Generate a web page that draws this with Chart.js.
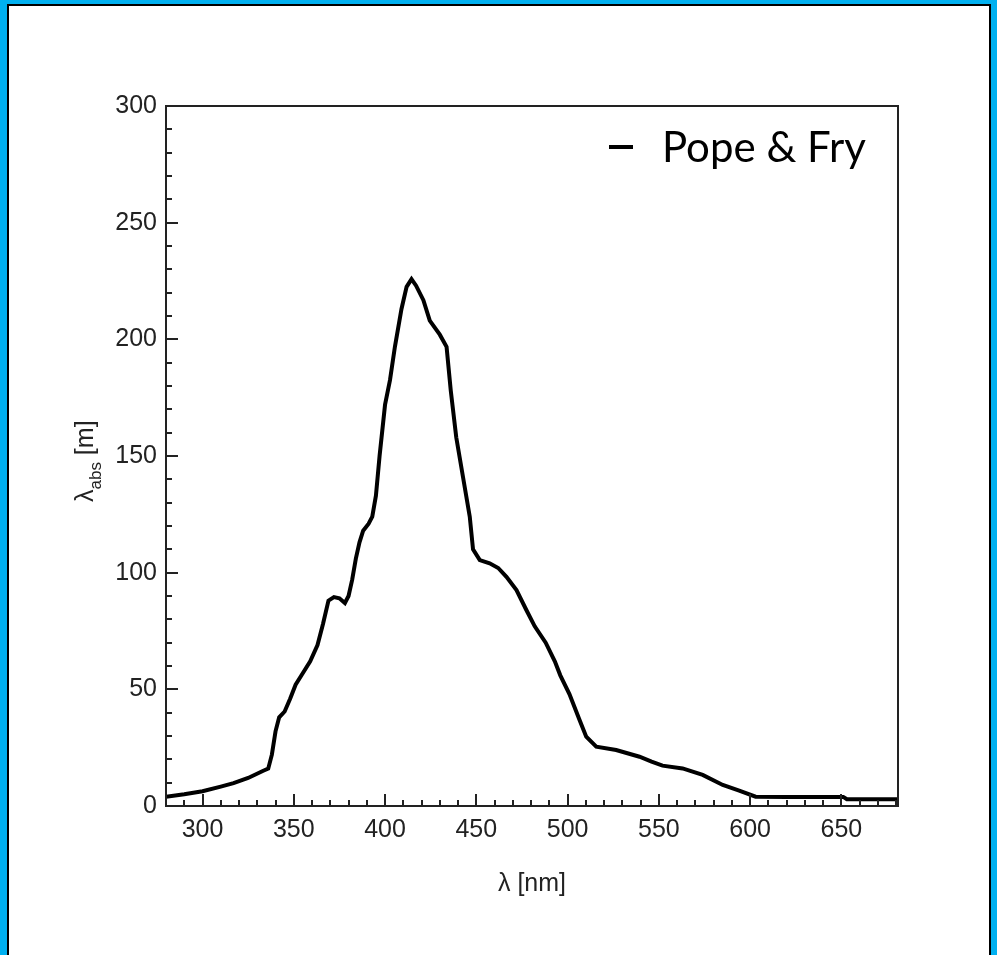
<!DOCTYPE html>
<html>
<head>
<meta charset="utf-8">
<title>Pope & Fry absorption length</title>
<script src="https://cdn.jsdelivr.net/npm/chart.js@4.4.0/dist/chart.umd.min.js"></script>
<style>
    html, body { margin: 0; padding: 0; background: #fff; }
    #wrap { position: relative; width: 997px; height: 955px; overflow: hidden; }
    #chart { position: absolute; left: 0; top: 0; }
    #frame {
        position: absolute; left: 0; top: 0; width: 997px; height: 955px;
        box-sizing: border-box; border-style: solid; border-color: #00b0f0;
        border-width: 4px 6px 0 7px; pointer-events: none;
    }
    #frame div { width: 100%; height: 100%; box-sizing: border-box; border: 2px solid #000; border-bottom: none; }
</style>
</head>
<body>
<div id="wrap">
    <canvas id="chart" width="997" height="955"></canvas>
    <div id="frame"><div></div></div>
</div>
<script>
// wavelength [nm] and absorption length [m]
const wavelength = [
    280, 290, 300, 310, 317, 325, 333, 336, 338, 340, 342, 345, 348, 351, 355, 359,
    363, 366, 369, 372, 375, 378, 380, 382, 384, 386, 388, 391, 393, 395, 397, 400,
    402.7, 405.4, 409, 411.8, 414.5, 417, 421, 424.5, 430, 433.7, 436, 439, 442.7, 446.4,
    448.2, 451.9, 457.3, 462, 466.5, 472, 477.4, 482, 488, 493, 496, 501, 506.5, 510.2,
    515.7, 526.6, 539.4, 546, 552, 563, 574, 585, 594, 603, 620, 640, 651, 653, 681
];
const absLength = [
    4, 5, 6.3, 8.3, 9.8, 12, 15, 16, 22, 32, 38, 40.5, 46, 52, 57, 62,
    69, 78, 88, 89.5, 89, 87, 90, 97, 106, 113, 118, 121, 124, 133, 150, 172,
    182.5, 196.8, 213, 222.5, 225.8, 223, 216.8, 208, 202, 196.8, 178, 158, 141, 124,
    110, 105.4, 104, 102, 98.2, 92.5, 84, 77, 70, 62, 56, 48, 37, 29.7,
    25.4, 24, 21.1, 19, 17.3, 16.1, 13.3, 9, 6.6, 4, 3.9, 3.9, 3.9, 2.9, 2.9
];
const xTicks = [300, 350, 400, 450, 500, 550, 600, 650];
const yTicks = [0, 50, 100, 150, 200, 250, 300];
const seriesName = 'Pope & Fry';

const axisFont = { family: "'Liberation Sans', Arial, sans-serif", size: 25 };

// frame, inward tick marks, y title with subscript, legend
const decorations = {
    id: 'decorations',
    afterDraw(chart) {
        const { ctx, chartArea: a, scales: { x, y } } = chart;
        ctx.save();
        ctx.strokeStyle = '#222';
        ctx.lineWidth = 2;
        ctx.strokeRect(a.left, a.top, a.right - a.left, a.bottom - a.top);

        ctx.beginPath();
        for (let v = 290; v <= 680; v += 10) {
            const px = Math.round(x.getPixelForValue(v));
            const len = v % 50 === 0 ? 12 : 6;
            ctx.moveTo(px, a.bottom);
            ctx.lineTo(px, a.bottom - len);
        }
        for (let v = 10; v < 300; v += 10) {
            const py = Math.round(y.getPixelForValue(v));
            const len = v % 50 === 0 ? 12 : 6;
            ctx.moveTo(a.left, py);
            ctx.lineTo(a.left + len, py);
        }
        ctx.stroke();

        // y axis title: lambda_abs [m]
        ctx.fillStyle = '#222';
        ctx.translate(93, 502);
        ctx.rotate(-Math.PI / 2);
        ctx.textBaseline = 'alphabetic';
        ctx.font = "25px 'Liberation Sans', Arial, sans-serif";
        ctx.fillText('λ', 0, 0);
        let off = ctx.measureText('λ').width;
        ctx.font = "17px 'Liberation Sans', Arial, sans-serif";
        ctx.fillText('abs', off, 8);
        off += ctx.measureText('abs').width;
        ctx.font = "25px 'Liberation Sans', Arial, sans-serif";
        ctx.fillText(' [m]', off, 0);
        ctx.setTransform(1, 0, 0, 1, 0, 0);

        // legend
        ctx.fillStyle = '#000';
        ctx.fillRect(609, 145, 24, 4);
        ctx.font = "42px Lato, 'Open Sans', sans-serif";
        ctx.fillText(chart.data.datasets[0].label, 662, 162);
        ctx.restore();
    }
};

new Chart(document.getElementById('chart'), {
    type: 'line',
    data: {
        datasets: [{
            label: seriesName,
            data: wavelength.map((w, i) => ({ x: w, y: absLength[i] })),
            borderColor: '#000',
            borderWidth: 4,
            pointRadius: 0,
            tension: 0,
            fill: false
        }]
    },
    options: {
        responsive: false,
        animation: false,
        events: [],
        layout: { padding: { left: 0, right: 99, top: 106, bottom: 0 } },
        plugins: {
            legend: { display: false },
            tooltip: { enabled: false }
        },
        scales: {
            x: {
                type: 'linear',
                min: 280,
                max: 681,
                grid: { display: false, drawTicks: false },
                border: { display: false },
                ticks: { font: axisFont, color: '#222', padding: 9, maxRotation: 0 },
                afterBuildTicks: s => { s.ticks = xTicks.map(v => ({ value: v })); },
                afterFit: s => { s.height = 149; },
                title: {
                    display: true,
                    text: 'λ [nm]',
                    font: axisFont,
                    color: '#222',
                    padding: { top: 0, bottom: 56 }
                }
            },
            y: {
                min: 0,
                max: 300,
                grid: { display: false, drawTicks: false },
                border: { display: false },
                ticks: { font: axisFont, color: '#222', padding: 9 },
                afterBuildTicks: s => { s.ticks = yTicks.map(v => ({ value: v })); },
                afterFit: s => { s.width = 166; }
            }
        }
    },
    plugins: [decorations]
});
</script>
</body>
</html>
